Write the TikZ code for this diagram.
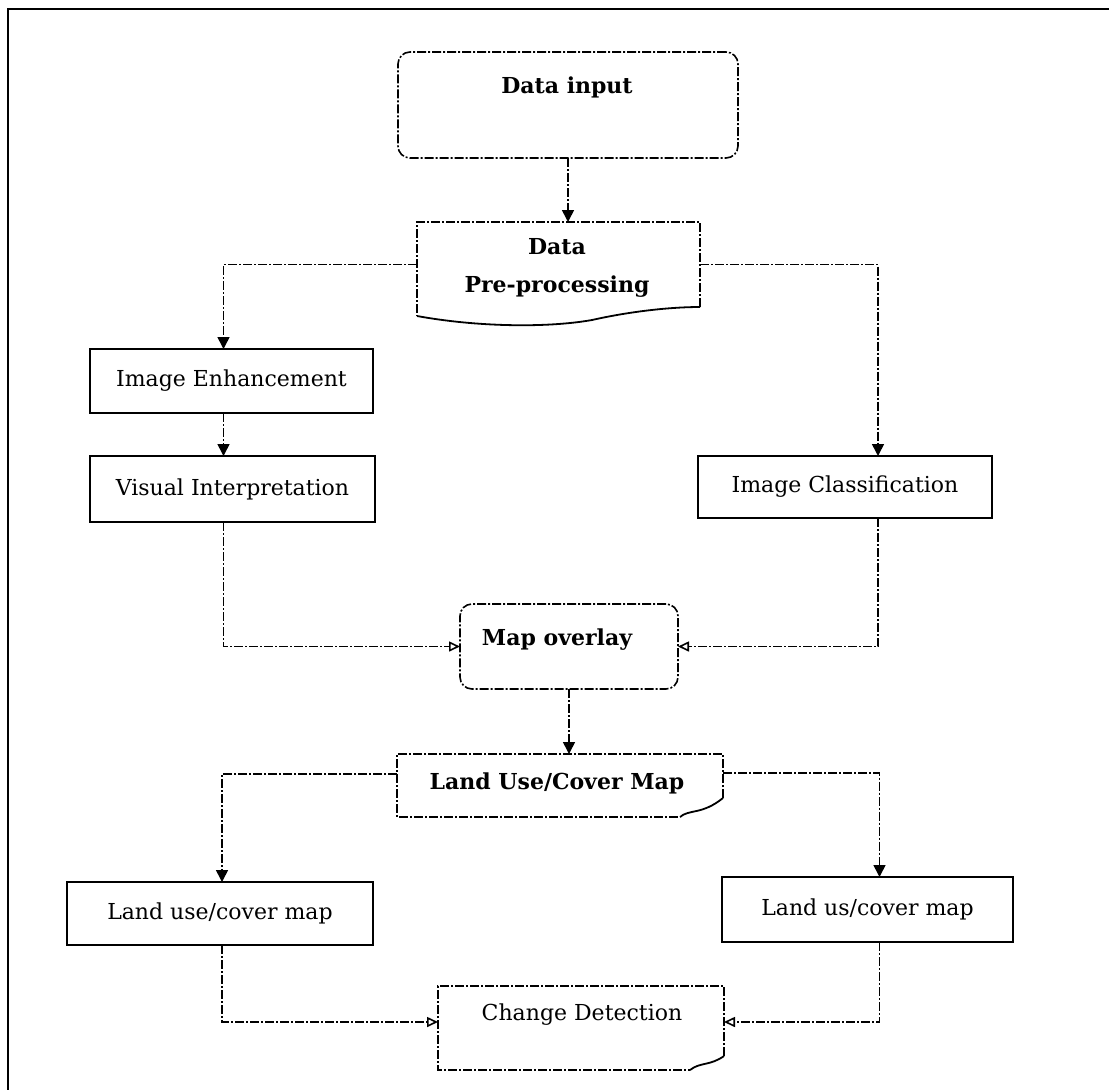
\documentclass[tikz,border=0pt]{standalone}
\usepackage{fontspec}
\setmainfont{DejaVu Serif}
\usetikzlibrary{arrows.meta,calc}
\begin{document}
\begin{tikzpicture}[x=1pt,y=-1pt,
  txt/.style={inner sep=0pt, outer sep=0pt, font=\fontsize{22}{38}\selectfont, align=center},
  btxt/.style={txt, font=\fontsize{22}{38}\selectfont\bfseries},
  solidbox/.style={draw, line width=2.2pt, rectangle, inner sep=0pt, outer sep=0pt,
    font=\fontsize{22}{26}\selectfont},
  holder/.style={rectangle, inner sep=0pt, outer sep=0pt},
  dashline/.style={line width=1.6pt, dash pattern=on 9pt off 2pt on 2pt off 2pt},
  roundbox/.style={draw, holder, dashline, rounded corners=12pt},
  conn/.style={dashline, -{Triangle[width=12pt,length=12pt]}},
  hconn/.style={dashline, -{Triangle[open,width=10pt,length=11pt]}},
]
\useasboundingbox (0,0) rectangle (1109,1090);
% outer frame (top and left edges visible)
\draw[line width=2.5pt] (8,1090) -- (8,9) -- (1109,9);

% nodes
\node[roundbox, minimum width=340pt, minimum height=106pt] (din) at (568,105) {};
\node[btxt] (dintxt) at (567,87) {Data input};

\node[holder, minimum width=283pt, minimum height=85pt] (pre) at (558.5,264.5) {};
\node[btxt] (pretxt) at (557,268) {Data\\Pre-processing};

\node[solidbox, minimum width=283pt, minimum height=64pt] (ie) at (231.5,381) {Image Enhancement};
\node[solidbox, minimum width=285pt, minimum height=66pt] (vi) at (232.5,489) {Visual Interpretation};
\node[solidbox, minimum width=294pt, minimum height=62pt] (ic) at (845,487) {Image Classification};

\node[roundbox, minimum width=218pt, minimum height=85pt] (mo) at (569,646.5) {};
\node[btxt] (motxt) at (557,640) {Map overlay};

\node[holder, minimum width=326pt, minimum height=50pt] (luc) at (560,779) {};
\node[btxt] (luctxt) at (557,783) {Land Use/Cover Map};

\node[solidbox, minimum width=306pt, minimum height=63pt] (lu1) at (220,913.5) {Land use/cover map};
\node[solidbox, minimum width=291pt, minimum height=65pt] (lu2) at (867.5,909.5) {Land us/cover map};

\node[holder, minimum width=286pt, minimum height=72pt] (cd) at (581,1022) {};
\node[txt] (cdtxt) at (582,1015) {Change Detection};

% document shapes
\draw[dashline] ($(pre.south east)$) -- (pre.north east) -- (pre.north west) -- ($(pre.south west)+(0,9)$);
\draw[line width=1.8pt] ($(pre.south west)+(0,9)$) .. controls ($(pre.south west)+(60,20)$) and ($(pre.south west)+(130,21)$) .. ($(pre.south west)+(175,13)$)
   .. controls ($(pre.south west)+(215,4)$) and ($(pre.south west)+(255,0)$) .. (pre.south east);

\draw[dashline] ($(luc.south east)+(0,-6)$) -- (luc.north east) -- (luc.north west) -- ($(luc.south west)+(0,13)$) -- ($(luc.south west)+(283,13)$);
\draw[line width=1.8pt] ($(luc.south west)+(283,13)$) .. controls ($(luc.south west)+(292,5)$) and ($(luc.south west)+(305,11)$) .. ($(luc.south east)+(0,-6)$);

\draw[dashline] ($(cd.south east)+(0,-2)$) -- (cd.north east) -- (cd.north west) -- ($(cd.south west)+(0,12)$) -- ($(cd.south west)+(252,12)$);
\draw[line width=1.8pt] ($(cd.south west)+(252,12)$) .. controls ($(cd.south west)+(262,4)$) and ($(cd.south west)+(272,8)$) .. ($(cd.south east)+(0,-2)$);

% connectors
\draw[conn] (din.south) -- (din.south |- pre.north);
\draw[conn] (pre.west) -| ([xshift=-8pt]ie.north);
\draw[conn] (pre.east) -| ([xshift=33pt]ic.north);
\draw[conn] ([xshift=-8pt]ie.south) -- ([xshift=-8pt]ie.south |- vi.north);
\draw[hconn] ([xshift=-9pt]vi.south) |- (mo.west);
\draw[hconn] ([xshift=33pt]ic.south) |- (mo.east);
\draw[conn] (mo.south) -- (mo.south |- luc.north);
\draw[conn] ([yshift=5pt]luc.west) -| ([xshift=2pt]lu1.north);
\draw[conn] ([yshift=6pt]luc.east) -| ([xshift=12pt]lu2.north);
\draw[hconn] ([xshift=2pt]lu1.south) |- (cd.west);
\draw[hconn] ([xshift=12pt]lu2.south) |- (cd.east);
\end{tikzpicture}
\end{document}
